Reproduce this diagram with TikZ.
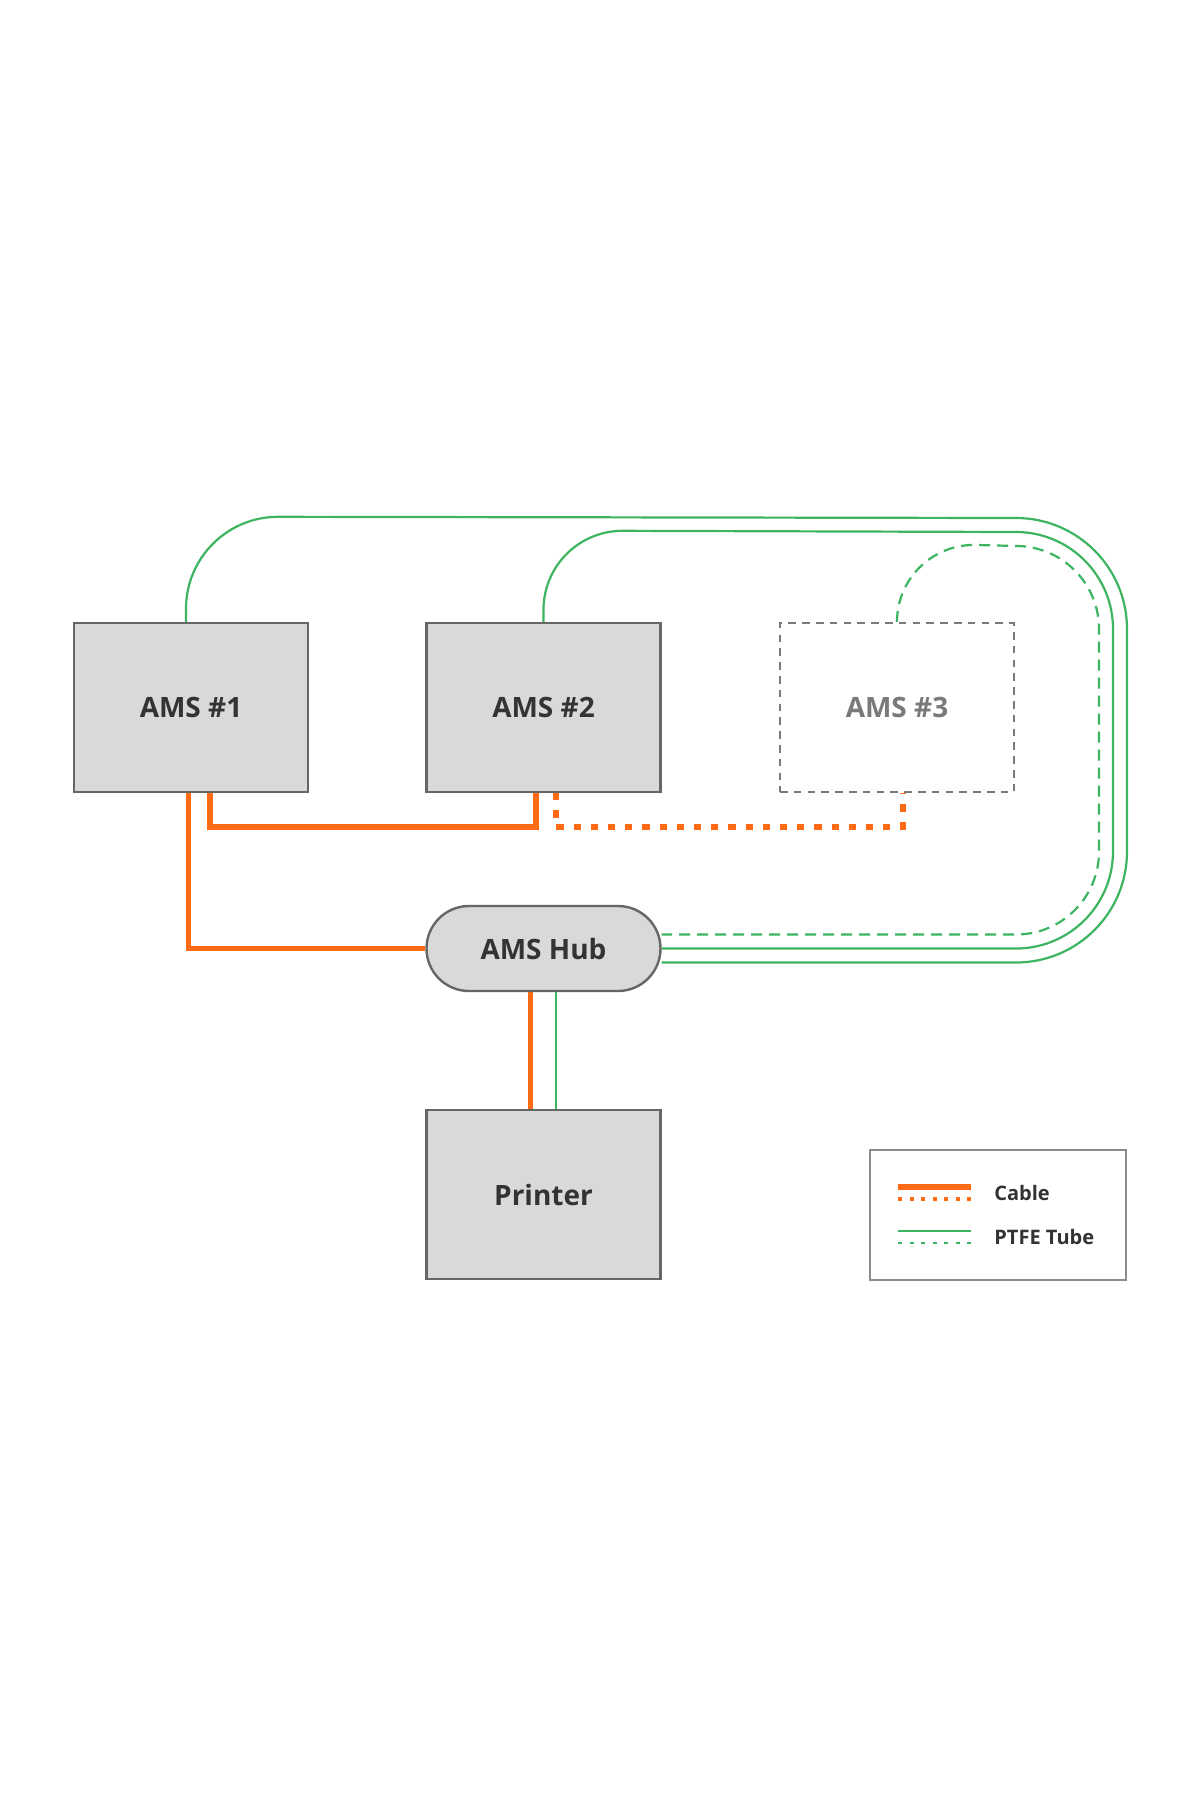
\documentclass[tikz,border=0pt]{standalone}
\usepackage{fontspec}
\setmainfont{Open Sans}
\usetikzlibrary{calc}
\pgfdeclarelayer{background}
\pgfsetlayers{background,main}
\definecolor{boxfill}{HTML}{D9D9D9}
\definecolor{boxline}{HTML}{666666}
\definecolor{cableor}{HTML}{FF6A13}
\definecolor{tubegr}{HTML}{3DB560}
\definecolor{txt}{HTML}{333333}
\definecolor{ghost}{HTML}{7A7A7A}
\definecolor{legline}{HTML}{8C8C8C}
\begin{document}
\begin{tikzpicture}[x=0.5pt,y=0.5pt,
  unitbox/.style={draw=boxline, line width=1.2pt, fill=boxfill, minimum width=117pt, minimum height=84.5pt, inner sep=0pt, text=txt, font=\bfseries\fontsize{14}{16}\selectfont},
  ghostbox/.style={draw=ghost, line width=1.1pt, dash pattern=on 3.8pt off 3.1pt, minimum width=117pt, minimum height=84.5pt, inner sep=0pt, text=ghost, font=\bfseries\fontsize{14}{16}\selectfont},
  hubbox/.style={unitbox, rounded corners=21.25pt, minimum height=42.5pt},
  legbox/.style={draw=legline, line width=1pt, minimum width=128pt, minimum height=65pt, inner sep=0pt},
  cable/.style={draw=cableor, line width=2.8pt},
  cabledot/.style={draw=cableor, line width=3pt, dash pattern=on 3.6pt off 5pt},
  tube/.style={draw=tubegr, line width=1.1pt},
  tubedash/.style={tube, dash pattern=on 5.5pt off 3.5pt},
  legtext/.style={text=txt, font=\bfseries\fontsize{10}{12}\selectfont, anchor=west, inner sep=0pt}
]
\useasboundingbox (0,0) rectangle (1200,-1800);

\node[unitbox] (a1) at (191,-707.5) {AMS \#1};
\node[unitbox] (a2) at (543.5,-707.5) {AMS \#2};
\node[ghostbox] (a3) at (897,-707.5) {AMS \#3};
\node[hubbox] (hub) at (543.5,-948.5) {AMS Hub};
\node[unitbox] (pr) at (543.5,-1194.5) {Printer};
\node[legbox] (leg) at (998,-1215) {};

\begin{pgfonlayer}{background}
\fill[white] (0,0) rectangle (1200,-1800);
% PTFE tubes
\draw[tube] ($(a1.north)+(-5,0)$) -- ++(0,13)
  arc[start angle=180, end angle=90, radius=92] -- (1016,-518)
  arc[start angle=90, end angle=0, radius=111] -- (1127,-851.5)
  arc[start angle=0, end angle=-90, radius=111] -- ($(hub.east)+(0,-14)$);
\draw[tube] (a2.north) -- ++(0,12)
  arc[start angle=180, end angle=90, radius=79] -- (1016,-532)
  arc[start angle=90, end angle=0, radius=97] -- (1113,-851.5)
  arc[start angle=0, end angle=-90, radius=97] -- (hub.east);
\draw[tubedash] (a3.north)
  arc[start angle=180, end angle=90, radius=77] -- (1016,-546)
  arc[start angle=90, end angle=0, radius=83] -- (1099,-851.5)
  arc[start angle=0, end angle=-90, radius=83] -- ($(hub.east)+(0,14)$);
\draw[tube] ($(hub.south)+(12.5,0)$) -- ($(pr.north)+(12.5,0)$);
% cables
\draw[cable] ($(a1.south)+(-2.5,0)$) |- (hub.west);
\draw[cable] ($(a1.south)+(19,0)$) -- ++(0,-33.5) -| ($(a2.south)+(-7.5,0)$);
\draw[cabledot] ($(a2.south)+(12,0)$) -- ++(0,-33.5) -| ($(a3.south)+(5.5,0)$);
\draw[cable] ($(hub.south)+(-13,0)$) -- ($(pr.north)+(-13,0)$);
\end{pgfonlayer}

% legend
\draw[draw=cableor, line width=2.8pt] ($(leg.west)+(29,28)$) -- ++(73,0);
\draw[draw=cableor, line width=2.4pt, dash pattern=on 2pt off 3.75pt] ($(leg.west)+(29,16)$) -- ++(73,0);
\draw[draw=tubegr, line width=1.3pt] ($(leg.west)+(29,-16)$) -- ++(73,0);
\draw[draw=tubegr, line width=1.3pt, dash pattern=on 2.2pt off 3.55pt] ($(leg.west)+(29,-28)$) -- ++(73,0);
\node[legtext] (lcable) at ($(leg.west)+(125,22)$) {Cable};
\node[legtext] (ltube) at ($(leg.west)+(125,-22)$) {PTFE Tube};
\end{tikzpicture}
\end{document}
